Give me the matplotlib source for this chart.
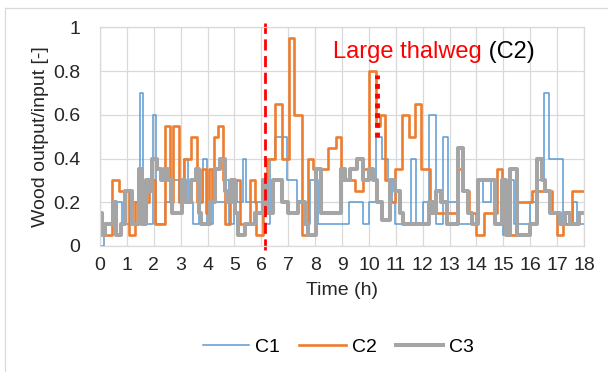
import numpy as np
import matplotlib.pyplot as plt

plt.rcParams['font.family'] = ['Liberation Sans', 'DejaVu Sans']

# step change points (time in h, value)
c1_t = [0.0, 0.15, 0.45, 0.8, 1.1, 1.47, 1.6, 1.97, 2.09, 2.4, 2.72, 2.93, 3.13, 3.27, 3.46,
        3.67, 3.84, 3.97, 4.22, 4.7, 4.78, 4.98, 5.1, 5.3, 5.44, 6.06, 6.32, 6.5, 6.94, 7.33,
        7.55, 7.8, 8.12, 9.25, 9.77, 10.0, 10.25, 10.5, 10.7, 10.85, 10.97, 11.55, 11.75, 12.0,
        12.25, 12.5, 12.75, 12.95, 13.27, 14.03, 14.25, 14.55, 14.7, 14.98, 15.25, 15.4, 16.0,
        16.3, 16.5, 16.68, 17.22, 17.6, 17.75]
c1_v = [0.0, 0.1, 0.2, 0.1, 0.2, 0.7, 0.1, 0.6, 0.1, 0.2, 0.3, 0.2, 0.4, 0.2, 0.1,
        0.2, 0.4, 0.1, 0.2, 0.3, 0.1, 0.3, 0.2, 0.4, 0.2, 0.1, 0.4, 0.5, 0.3, 0.2,
        0.1, 0.3, 0.1, 0.2, 0.1, 0.2, 0.5, 0.4, 0.3, 0.2, 0.1, 0.4, 0.1, 0.2,
        0.6, 0.1, 0.5, 0.2, 0.1, 0.3, 0.2, 0.3, 0.1, 0.05, 0.3, 0.1, 0.2,
        0.3, 0.7, 0.4, 0.1, 0.2, 0.1]

c2_t = [0.0, 0.2, 0.45, 0.72, 1.08, 1.3, 1.82, 2.05, 2.42, 2.6, 2.7, 2.93, 3.0, 3.13, 3.38,
        3.6, 3.78, 3.95, 4.05, 4.15, 4.24, 4.4, 4.57, 4.64, 4.82, 4.9, 5.2, 5.56, 5.75, 5.8,
        6.06, 6.2, 6.5, 6.75, 7.02, 7.22, 7.5, 7.72, 7.93, 8.48, 8.79, 8.98, 9.5, 9.77, 10.0,
        10.26, 10.4, 10.6, 10.75, 10.98, 11.25, 11.5, 11.72, 11.95, 12.26, 13.28, 13.5, 13.72,
        14.0, 14.27, 14.76, 14.95, 15.1, 15.5, 16.05, 16.8, 16.98, 17.23, 17.54]
c2_v = [0.1, 0.05, 0.3, 0.25, 0.05, 0.2, 0.3, 0.1, 0.55, 0.2, 0.55, 0.2, 0.3, 0.4, 0.5,
        0.2, 0.35, 0.15, 0.35, 0.2, 0.5, 0.55, 0.3, 0.1, 0.2, 0.3, 0.1, 0.3, 0.2, 0.05,
        0.3, 0.4, 0.65, 0.4, 0.95, 0.6, 0.05, 0.4, 0.35, 0.45, 0.5, 0.3, 0.25, 0.35, 0.8,
        0.55, 0.6, 0.3, 0.2, 0.35, 0.6, 0.5, 0.65, 0.35, 0.15, 0.35, 0.25, 0.15,
        0.05, 0.15, 0.35, 0.2, 0.05, 0.2, 0.25, 0.15, 0.05, 0.1, 0.25]

c3_t = [0.0, 0.07, 0.2, 0.47, 0.6, 0.78, 0.93, 1.2, 1.45, 1.57, 1.7, 1.82, 1.94, 2.13, 2.25,
        2.37, 2.53, 2.68, 3.05, 3.15, 3.4, 3.58, 3.7, 3.77, 4.08, 4.26, 4.45, 4.64, 4.73, 4.88,
        5.03, 5.13, 5.38, 5.75, 6.05, 6.2, 6.44, 6.75, 7.0, 7.37, 7.62, 7.74, 8.02, 8.23, 8.97,
        9.1, 9.3, 9.56, 9.77, 9.99, 10.17, 10.3, 10.48, 10.79, 10.98, 11.15, 11.28, 12.25, 12.37,
        12.5, 12.7, 12.9, 13.3, 13.5, 13.7, 13.85, 14.05, 14.7, 14.95, 15.1, 15.25, 15.5, 16.0,
        16.24, 16.43, 16.55, 16.74, 17.1, 17.3, 17.48, 17.8]
c3_v = [0.15, 0.05, 0.1, 0.2, 0.05, 0.1, 0.25, 0.1, 0.35, 0.1, 0.3, 0.25, 0.4, 0.35, 0.3,
        0.35, 0.3, 0.15, 0.3, 0.2, 0.3, 0.35, 0.15, 0.1, 0.2, 0.35, 0.4, 0.25, 0.2, 0.3,
        0.15, 0.05, 0.1, 0.15, 0.3, 0.15, 0.3, 0.2, 0.15, 0.2, 0.1, 0.05, 0.35, 0.15, 0.35,
        0.3, 0.35, 0.4, 0.3, 0.35, 0.3, 0.2, 0.12, 0.3, 0.25, 0.15, 0.1, 0.2, 0.15,
        0.25, 0.2, 0.1, 0.45, 0.25, 0.15, 0.1, 0.3, 0.1, 0.3, 0.05, 0.35, 0.05, 0.1,
        0.4, 0.3, 0.25, 0.15, 0.1, 0.15, 0.1, 0.15]

t_end = 18
thalweg_t = 6.15      # dashed marker
large_t = 10.3        # dotted marker (C2 peak)
large_span = (0.5, 0.78)


def steps(t, v):
    # close the last step at the end of the record
    return np.append(t, t_end), np.append(v, v[-1])


fig = plt.figure(figsize=(6.08, 3.72), dpi=100)
ax = fig.add_axes([100/608, 1 - 246/372, 484/608, 218.7/372])

for t, v, name, col, lw in [(c1_t, c1_v, 'C1', '#5B9BD5', 1.1),
                            (c2_t, c2_v, 'C2', '#ED7D31', 1.9),
                            (c3_t, c3_v, 'C3', '#A5A5A5', 2.9)]:
    tt, vv = steps(t, v)
    ax.step(tt, vv, where='post', color=col, lw=lw, label=name)

ax.plot([thalweg_t, thalweg_t], [-0.02, 1.02], color='red', lw=2, ls=(0, (4, 2)), clip_on=False)
ax.plot([large_t, large_t], large_span, color='red', lw=3.5, ls=(0, (1, 1)))

txt = ax.text(8.66, 0.886, 'Large thalweg', color='red', fontsize=17, va='center')
ax.annotate(' (C2)', xy=(1, 0), xycoords=txt, va='bottom', ha='left', fontsize=17, color='black')

ax.set_xlim(0, t_end)
ax.set_ylim(0, 1)
ax.set_xticks(range(0, 19))
ax.set_yticks([0, 0.2, 0.4, 0.6, 0.8, 1])
ax.set_yticklabels(['0', '0.2', '0.4', '0.6', '0.8', '1'])
ax.tick_params(length=0, labelsize=14, colors='#262626')
ax.tick_params(axis='y', pad=14)
ax.tick_params(axis='x', pad=8)
ax.grid(True, color='#D9D9D9', lw=0.9)
ax.set_axisbelow(True)
for s in ax.spines.values():
    s.set_color('#D9D9D9')
    s.set_linewidth(0.9)

ax.set_xlabel('Time (h)', fontsize=14, color='#262626', labelpad=6)
ax.set_ylabel('Wood output/input [-]', fontsize=14, color='#262626', labelpad=3)

fig.legend(loc='center', bbox_to_anchor=(0.556, 0.067), ncol=3, frameon=False,
           fontsize=14, handlelength=2.4, columnspacing=1.0, handletextpad=0.3)

# chart area border
fig.add_artist(plt.Line2D([5/608, 5/608], [0, 1 - 8/372], color='#D9D9D9', lw=0.9))
fig.add_artist(plt.Line2D([5/608, 1], [1 - 8/372, 1 - 8/372], color='#D9D9D9', lw=0.9))

fig.savefig('out.png', dpi=100)
